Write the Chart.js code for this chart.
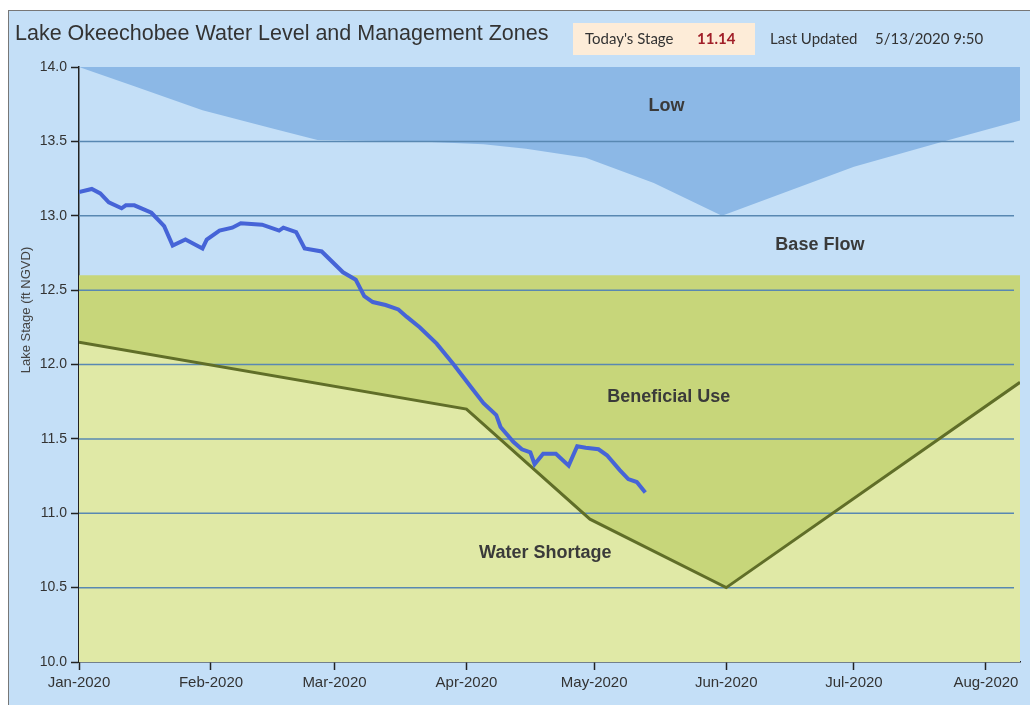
<!DOCTYPE html>
<html>
<head>
<meta charset="utf-8">
<script src="https://cdn.jsdelivr.net/npm/chart.js@4.4.0/dist/chart.umd.min.js"></script>
<style>
  body { margin: 0; background: #fff; }
  #frame { position: absolute; left: 8px; top: 10px; width: 1030px; height: 705px;
           background: rgb(196, 223, 247); border-left: 1px solid #777; border-top: 1px solid #777; }
  #chart { position: absolute; left: 0; top: 0; }
  .txt { position: absolute; white-space: nowrap; color: #333; }
  #title { left: 15px; top: 21px; font: 21.5px "Liberation Sans", Arial, sans-serif; }
  #stageBox { position: absolute; left: 573px; top: 23px; width: 182px; height: 32px; background: rgb(253, 236, 216); }
  .hdr { top: 29px; font: 15px Lato, sans-serif; }
  #stageVal { color: rgb(160, 30, 40); font-weight: bold; }
</style>
</head>
<body>
<div id="frame"></div>
<canvas id="chart" width="1030" height="705"></canvas>
<div id="stageBox"></div>
<div class="txt" id="title">Lake Okeechobee Water Level and Management Zones</div>
<div class="txt hdr" style="left:585px">Today's Stage</div>
<div class="txt hdr" id="stageVal" style="left:697px">11.14</div>
<div class="txt hdr" style="left:770px">Last Updated</div>
<div class="txt hdr" style="left:875px">5/13/2020 9:50</div>
<script>
// x values are days since 1 Jan 2020
const monthDays = [0, 31, 60, 91, 121, 152, 182, 213];
const monthLabels = ["Jan-2020", "Feb-2020", "Mar-2020", "Apr-2020", "May-2020", "Jun-2020", "Jul-2020", "Aug-2020"];
const stageTicks = [10, 10.5, 11, 11.5, 12, 12.5, 13, 13.5, 14];

// lake stage (ft NGVD)
const stageDays = [0, 3, 5, 7, 10, 11, 13, 17, 19, 20, 22, 25, 27, 29, 30, 33, 36, 38, 43, 47, 48, 51, 53, 57,
  62, 65, 67, 69, 72, 75, 77, 80, 84, 88, 92, 95, 98, 99, 102, 104, 106, 107, 109, 112, 115, 117, 119, 122,
  124, 127, 129, 131, 133];
const stageValues = [13.16, 13.18, 13.15, 13.09, 13.05, 13.07, 13.07, 13.02, 12.96, 12.93, 12.80, 12.84, 12.81,
  12.78, 12.84, 12.90, 12.92, 12.95, 12.94, 12.90, 12.92, 12.89, 12.78, 12.76, 12.62, 12.57, 12.46, 12.42,
  12.40, 12.37, 12.32, 12.25, 12.14, 12.00, 11.85, 11.74, 11.66, 11.58, 11.48, 11.43, 11.41, 11.33, 11.40,
  11.40, 11.32, 11.45, 11.44, 11.43, 11.39, 11.29, 11.23, 11.21, 11.14];

// management zone boundaries
const lowDays = [0, 13, 29, 45, 56, 80, 95, 105, 119, 135, 151, 182, 203, 221];
const lowValues = [14.0, 13.87, 13.71, 13.59, 13.51, 13.50, 13.48, 13.45, 13.39, 13.22, 13.0, 13.33, 13.5, 13.64];
const beneficialDays = [0, 221];
const beneficialValues = [12.6, 12.6];
const shortageDays = [0, 91, 120, 152, 221];
const shortageValues = [12.15, 11.70, 10.96, 10.50, 11.88];

const zoneNames = ["Low", "Base Flow", "Beneficial Use", "Water Shortage"];
const zoneNameDays = [138, 174, 138.5, 109.5];
const zoneNameStages = [13.74, 12.80, 11.78, 10.73];

const pts = (xs, ys) => xs.map((x, i) => ({ x: x, y: ys[i] }));
const FONT = '"Liberation Sans", Arial, sans-serif';

// horizontal grid drawn over the zone fills, under the lines
const gridOverZones = {
  id: "gridOverZones",
  afterDatasetDraw(chart, args) {
    if (args.index !== 2) return;
    const { ctx, chartArea, scales } = chart;
    const y = scales.y;
    ctx.save();
    ctx.strokeStyle = "rgb(88, 136, 178)";
    ctx.lineWidth = 1.5;
    y.ticks.forEach((t) => {
      if (t.value <= y.min || t.value >= y.max) return;
      const py = y.getPixelForValue(t.value);
      ctx.beginPath();
      ctx.moveTo(chartArea.left, py);
      ctx.lineTo(chartArea.right - 6, py);
      ctx.stroke();
    });
    ctx.restore();
  },
};

const zoneText = {
  id: "zoneText",
  afterDatasetsDraw(chart) {
    const { ctx, scales } = chart;
    ctx.save();
    ctx.font = "bold 18px " + FONT;
    ctx.fillStyle = "#3a3a3a";
    ctx.textAlign = "center";
    ctx.textBaseline = "middle";
    zoneNames.forEach((name, i) => {
      ctx.fillText(name, scales.x.getPixelForValue(zoneNameDays[i]), scales.y.getPixelForValue(zoneNameStages[i]));
    });
    // axis title sits over the tick labels in the original
    ctx.translate(26, 310);
    ctx.rotate(-Math.PI / 2);
    ctx.font = "13px " + FONT;
    ctx.fillStyle = "#444";
    ctx.fillText("Lake Stage (ft NGVD)", 0, 0);
    ctx.restore();
  },
};

new Chart(document.getElementById("chart"), {
  type: "line",
  data: {
    datasets: [
      {
        label: "Lake Stage",
        data: pts(stageDays, stageValues),
        borderColor: "rgb(70, 100, 215)",
        borderWidth: 4,
        pointRadius: 0,
        fill: false,
      },
      {
        label: "Water Shortage boundary",
        data: pts(shortageDays, shortageValues),
        borderColor: "rgb(96, 110, 40)",
        borderWidth: 3,
        pointRadius: 0,
        fill: false,
      },
      {
        label: "Water Shortage",
        data: pts(shortageDays, shortageValues),
        borderColor: "transparent",
        borderWidth: 0,
        pointRadius: 0,
        fill: "start",
        backgroundColor: "rgb(224, 233, 166)",
      },
      {
        label: "Beneficial Use",
        data: pts(beneficialDays, beneficialValues),
        borderColor: "transparent",
        borderWidth: 0,
        pointRadius: 0,
        fill: "start",
        backgroundColor: "rgb(199, 214, 122)",
      },
      {
        label: "Low",
        data: pts(lowDays, lowValues),
        borderColor: "transparent",
        borderWidth: 0,
        pointRadius: 0,
        fill: "end",
        backgroundColor: "rgb(140, 184, 230)",
      },
    ],
  },
  options: {
    responsive: false,
    animation: false,
    layout: { padding: { top: 67, right: 10, left: 0, bottom: 0 } },
    plugins: { legend: { display: false }, tooltip: { enabled: false } },
    scales: {
      x: {
        type: "linear",
        min: 0,
        max: 221,
        afterBuildTicks: (s) => { s.ticks = monthDays.map((v) => ({ value: v })); },
        afterFit: (s) => { s.height = 43; },
        ticks: {
          callback: (v, i) => monthLabels[i],
          font: { size: 15, family: FONT },
          color: "#333",
          maxRotation: 0,
          autoSkip: false,
          padding: 4,
        },
        grid: { drawOnChartArea: false, tickLength: 8, tickColor: "#222", tickWidth: 1.5 },
        border: { color: "#222", width: 1.5 },
      },
      y: {
        min: 10,
        max: 14,
        afterBuildTicks: (s) => { s.ticks = stageTicks.map((v) => ({ value: v })); },
        afterFit: (s) => { s.width = 79; },
        ticks: {
          callback: (v) => v.toFixed(1),
          font: { size: 14, family: FONT },
          color: "#333",
          padding: 4,
        },
        grid: { drawOnChartArea: false, tickLength: 8, tickColor: "#222", tickWidth: 1.5 },
        border: { color: "#222", width: 1.5 },
      },
    },
  },
  plugins: [gridOverZones, zoneText],
});
</script>
</body>
</html>
